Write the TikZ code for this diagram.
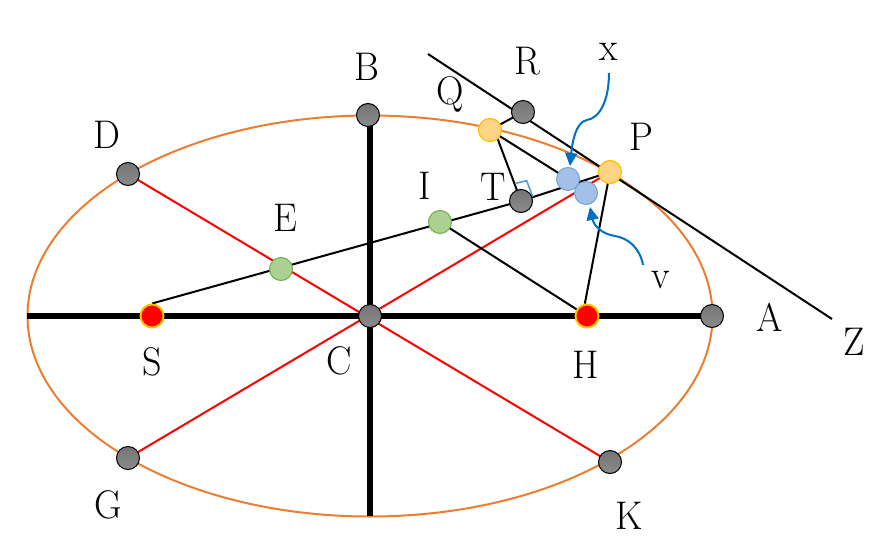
\documentclass[tikz,border=0pt]{standalone}
\usetikzlibrary{backgrounds,arrows.meta}
\newcommand{\lbl}[1]{\scalebox{.95}[1]{#1}}
\definecolor{ellipsecol}{HTML}{ED7D31}
\definecolor{arrowcol}{HTML}{0070C0}
\definecolor{markcol}{HTML}{5B9BD5}
\definecolor{peachfill}{HTML}{FFD484}
\definecolor{goldline}{HTML}{FFC000}
\definecolor{greenfill}{HTML}{ABD092}
\definecolor{greenline}{HTML}{70AD47}
\definecolor{bluefill}{HTML}{A3C0E6}
\definecolor{blueline}{HTML}{6FA3DB}
\definecolor{graytop}{HTML}{757575}
\definecolor{graybot}{HTML}{8C8C8C}
\tikzset{
  dotbase/.style={circle,minimum size=23pt,inner sep=0pt,line width=1pt},
  graydot/.style={dotbase,draw=black,top color=graytop,bottom color=graybot},
  peach/.style={dotbase,draw=goldline,line width=1.2pt,fill=peachfill},
  greendot/.style={dotbase,draw=greenline,fill=greenfill},
  bluedot/.style={dotbase,draw=blueline,fill=bluefill},
  reddot/.style={dotbase,draw=goldline,line width=2pt,fill=red},
  lab/.style={font=\fontsize{40}{40}\selectfont,inner sep=0pt,text=black},
  thin line/.style={draw=black,line width=2pt},
  redline/.style={draw=red,line width=2pt},
  axisline/.style={draw=black,line width=6pt},
  callout/.style={draw=arrowcol,line width=2pt,-{Triangle[length=13pt,width=12pt]}},
}
\begin{document}
\begin{tikzpicture}[x=1pt,y=-1pt]
\useasboundingbox (0,0) rectangle (887,560);
\coordinate (axL) at (27,316);
\coordinate (axT) at (370,115);
\coordinate (axB) at (370,516);
\coordinate (tanA) at (428,54);
\coordinate (tanZ) at (832,319);
\coordinate (xs) at (609,73);
\coordinate (xe) at (570,166);
\coordinate (vs) at (643,265);
\coordinate (ve) at (590,207);
\coordinate (m1) at (515,183.5);
\coordinate (m2) at (526.7,180.7);
\coordinate (m3) at (532.7,196.7);
\node[graydot] (B) at (368,115) {};
\node[graydot] (A) at (712,316) {};
\node[graydot] (C) at (370,316) {};
\node[graydot] (D) at (128,174) {};
\node[graydot] (G) at (128,458) {};
\node[graydot] (K) at (610,462) {};
\node[graydot] (T) at (521,201) {};
\node[graydot] (R) at (523,112) {};
\node[reddot] (S) at (152,316) {};
\node[reddot] (H) at (587,316) {};
\node[greendot] (E) at (281,269) {};
\node[greendot] (I) at (440,222) {};
\node[peach] (Q) at (490,130) {};
\node[peach] (P) at (610,172) {};
\node[bluedot] (X) at (568,179) {};
\node[bluedot] (V) at (586,193) {};
\begin{scope}[on background layer]
  \draw[ellipsecol,line width=2pt] (370,316) ellipse [x radius=342.5,y radius=200.5];
  \draw[axisline] (axL) -- (A.center);
  \draw[axisline] (axT) -- (axB);
  \draw[redline] (D.center) -- (K.center);
  \draw[redline] (G.center) -- (P.center);
  \draw[thin line] (tanA) -- (tanZ);
  \draw[thin line] (S.north) -- (T.center) -- (P.center);
  \draw[thin line] (I.center) -- (H.center);
  \draw[thin line] (P.center) -- (H.100);
  \draw[thin line] (Q.-50) -- (T.center);
  \draw[thin line] (Q.center) -- (X.center);
  \draw[thin line] (Q.center) -- (R.center);
  \draw[markcol,line width=1.6pt] (m1) -- (m2) -- (m3);
\end{scope}
\draw[callout] (xs) .. controls (609,100) and (600,118) .. (587,120) .. controls (575,122) and (572,145) .. (xe);
\draw[callout] (vs) .. controls (640,248) and (628,238) .. (615,236) .. controls (602,234) and (594,226) .. (ve);
\node[lab] (lB) at (367,67) {\lbl{B}};
\node[lab] (lR) at (527,61) {\lbl{R}};
\node[lab] (lQ) at (450,94) {\lbl{Q}};
\node[lab] (lx) at (609,52) {\lbl{x}};
\node[lab] (lD) at (107,135) {\lbl{D}};
\node[lab] (lP) at (641,137) {\lbl{P}};
\node[lab] (lI) at (425,186) {\lbl{I}};
\node[lab] (lT) at (493,187) {\lbl{T}};
\node[lab] (lE) at (285,218) {\lbl{E}};
\node[lab] (lv) at (661,280) {\lbl{v}};
\node[lab] (lA) at (770,317) {\lbl{A}};
\node[lab] (lZ) at (854,342) {\lbl{Z}};
\node[lab] (lS) at (152,362) {\lbl{S}};
\node[lab] (lC) at (339,361) {\lbl{C}};
\node[lab] (lH) at (586,365) {\lbl{H}};
\node[lab] (lG) at (108,505) {\lbl{G}};
\node[lab] (lK) at (629,516) {\lbl{K}};
\end{tikzpicture}
\end{document}
